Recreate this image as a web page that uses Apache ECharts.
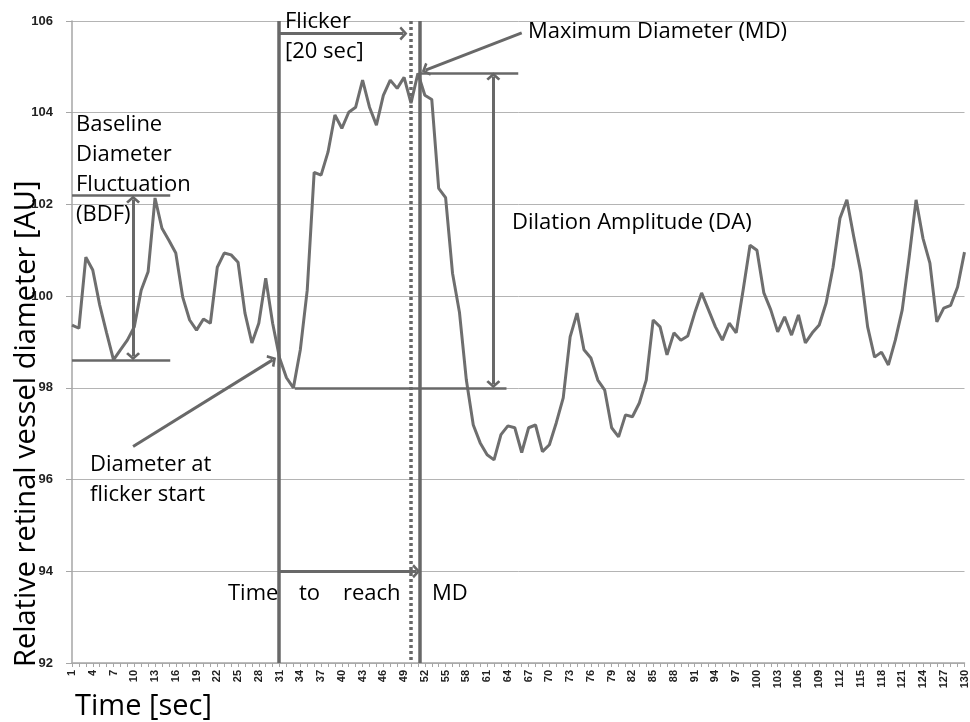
<!DOCTYPE html>
<html>
<head>
<meta charset="utf-8">
<script src="https://cdn.jsdelivr.net/npm/echarts@6/dist/echarts.min.js"></script>
<style>
  html, body { margin: 0; padding: 0; background: #fff; }
  #chart { width: 970px; height: 722px; }
</style>
</head>
<body>
<div id="chart"></div>
<script>
// time in seconds, one sample per second
const seconds = [];
for (let s = 1; s <= 130; s++) seconds.push(s);

// relative retinal vessel diameter [AU]
const diameter = [
  99.37, 99.30, 100.85, 100.57, 99.81, 99.20, 98.61, 98.83, 99.04, 99.33,
  100.13, 100.53, 102.14, 101.48, 101.22, 100.94, 99.98, 99.48, 99.26, 99.50,
  99.41, 100.63, 100.94, 100.90, 100.74, 99.63, 98.98, 99.41, 100.39, 99.41,
  98.65, 98.22, 98.00, 98.83, 100.13, 102.70, 102.64, 103.14, 103.95, 103.66,
  104.01, 104.12, 104.71, 104.12, 103.73, 104.38, 104.71, 104.53, 104.77, 104.21,
  104.86, 104.38, 104.29, 102.35, 102.15, 100.50, 99.65, 98.17, 97.19, 96.80,
  96.54, 96.43, 96.98, 97.17, 97.13, 96.59, 97.13, 97.19, 96.61, 96.76,
  97.24, 97.78, 99.11, 99.63, 98.83, 98.65, 98.17, 97.95, 97.13, 96.93,
  97.41, 97.37, 97.67, 98.17, 99.48, 99.33, 98.72, 99.20, 99.04, 99.13,
  99.63, 100.07, 99.70, 99.33, 99.04, 99.41, 99.20, 100.13, 101.11, 101.00,
  100.07, 99.70, 99.22, 99.55, 99.15, 99.59, 98.98, 99.20, 99.37, 99.85,
  100.63, 101.70, 102.10, 101.29, 100.53, 99.33, 98.67, 98.78, 98.50, 99.04,
  99.70, 100.85, 102.10, 101.26, 100.72, 99.44, 99.74, 99.80, 100.20, 100.96
];

// y axis range
const yMin = 92, yMax = 106, yStep = 2;

// annotation anchors in data units (seconds, AU)
const flickerStart = 30.9;
const flickerEnd = 49.9;
const mdTime = 51.3;
const mdValue = 104.87;
const daFloor = 98.0;
const bdfHigh = 102.19;
const bdfLow = 98.61;

const ink = '#686868';
const chevron = 'path://M5,0 L10,5 L8.6,6.4 L5,2.8 L1.4,6.4 L0,5 Z';
const txtFont = 'Open Sans';

// one annotation segment; arrow = 'end' | 'both' | undefined
function seg(from, to, arrow, width, type) {
  return [
    {
      coord: from,
      symbol: arrow === 'both' ? chevron : 'none',
      lineStyle: { color: ink, width: width || 3, type: type || 'solid' }
    },
    {
      coord: to,
      symbol: arrow ? chevron : 'none'
    }
  ];
}

const chart = echarts.init(document.getElementById('chart'));

function note(text, x, y, size) {
  return {
    type: 'text', x: x, y: y, z: 100,
    style: {
      text: text, fill: '#000', fontFamily: txtFont, fontSize: size || 22,
      align: 'left', verticalAlign: 'middle'
    }
  };
}

chart.setOption({
  animation: false,
  backgroundColor: '#fff',
  grid: { left: 72, right: 3, top: 21, bottom: 59 },
  xAxis: {
    type: 'value', min: 1, max: 130, interval: 1,
    axisLine: { lineStyle: { color: '#a6a6a6', width: 1.5 } },
    axisTick: { show: true, length: 4, lineStyle: { color: '#a6a6a6' } },
    axisLabel: {
      rotate: 90, margin: 7, fontSize: 11, fontWeight: 'bold',
      fontFamily: 'Liberation Sans Narrow, Liberation Sans', color: '#222',
      formatter: v => ((v - 1) % 3 === 0 ? String(v) : '')
    },
    splitLine: { show: false }
  },
  yAxis: {
    type: 'value', min: yMin, max: yMax, interval: yStep,
    axisLine: { show: true, lineStyle: { color: '#a6a6a6', width: 1.5 } },
    axisTick: { show: true, length: 6, lineStyle: { color: '#a6a6a6' } },
    axisLabel: {
      margin: 19, fontSize: 13, fontWeight: 'bold',
      fontFamily: 'Liberation Sans Narrow, Liberation Sans', color: '#222'
    },
    splitLine: { lineStyle: { color: '#b4b4b4', width: 1 } }
  },
  series: [{
    type: 'line',
    data: seconds.map((s, i) => [s, diameter[i]]),
    showSymbol: false,
    lineStyle: { color: '#6e6e6e', width: 3 },
    markLine: {
      silent: true,
      symbolSize: [14, 8],
      label: { show: false },
      emphasis: { disabled: true },
      data: [
        seg([flickerStart, yMax], [flickerStart, yMin], null, 3.5),
        seg([flickerEnd, yMax], [flickerEnd, yMin], null, 3.5, [3, 3]),
        seg([mdTime, yMax], [mdTime, yMin], null, 3.5),
        seg([flickerStart, 105.73], [48.9, 105.73], 'end'),
        seg([66.0, 105.74], [52.1, 104.93], 'end'),
        seg([mdTime, mdValue], [65.5, mdValue], null, 2.5),
        seg([61.9, mdValue - 0.08], [61.9, daFloor + 0.08], 'both'),
        seg([33.2, daFloor], [63.8, daFloor], null, 2.5),
        seg([1, bdfHigh], [15.2, bdfHigh], null, 2.5),
        seg([1, bdfLow], [15.2, bdfLow], null, 2.5),
        seg([9.83, bdfHigh - 0.08], [9.83, bdfLow + 0.08], 'both'),
        seg([9.83, 96.72], [30.0, 98.61], 'end'),
        seg([flickerStart, 94.0], [mdTime - 0.55, 94.0], 'end')
      ]
    }
  }],
  graphic: [
    note('Flicker', 285, 22),
    note('[20 sec]', 285, 52),
    note('Maximum Diameter (MD)', 528, 32),
    note('Baseline', 76, 125),
    note('Diameter', 76, 155),
    note('Fluctuation', 76, 185),
    note('(BDF)', 76, 215),
    note('Dilation Amplitude (DA)', 512, 223),
    note('Diameter at', 90, 465),
    note('flicker start', 90, 495),
    note('Time', 228, 594),
    note('to', 299, 594),
    note('reach', 343, 594),
    note('MD', 432, 594),
    note('Time [sec]', 75, 707, 29),
    {
      type: 'text', x: 27, y: 667, rotation: Math.PI / 2, z: 100,
      style: {
        text: 'Relative retinal vessel diameter [AU]', fill: '#000',
        fontFamily: txtFont, fontSize: 29, align: 'left', verticalAlign: 'middle'
      }
    }
  ]
});
</script>
</body>
</html>
